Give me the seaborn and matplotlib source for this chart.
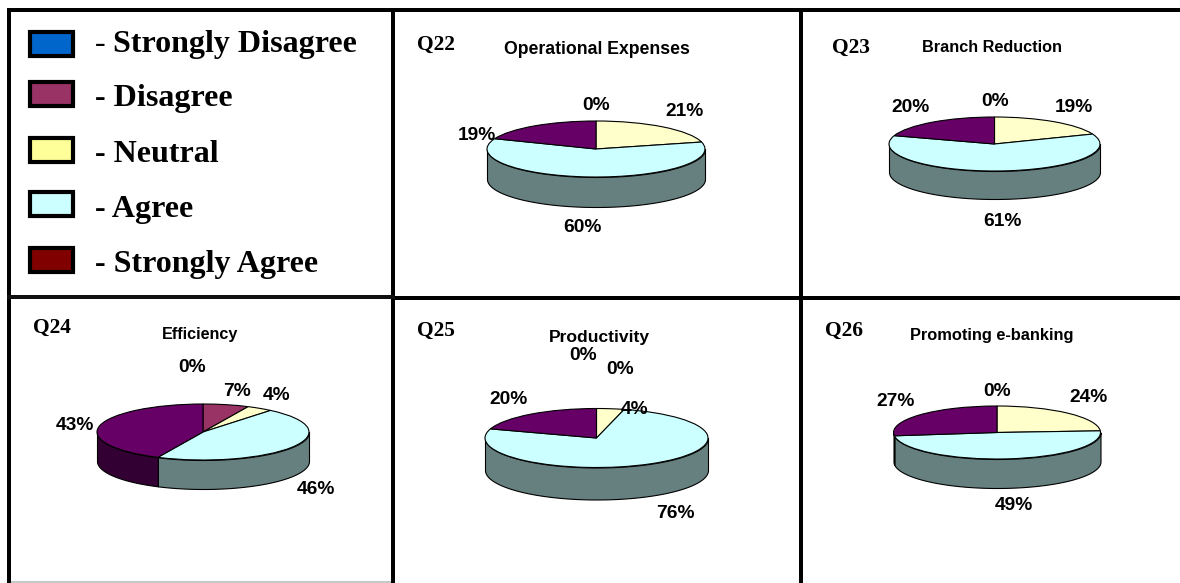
import numpy as np
import seaborn as sns
import matplotlib
matplotlib.use("Agg")
import matplotlib.pyplot as plt
from matplotlib.patches import Rectangle

# ---- data ----
categories = ["Strongly Disagree", "Disagree", "Neutral", "Agree", "Strongly Agree"]
q22 = [0, 0, 21, 60, 19]
q23 = [0, 0, 19, 61, 20]
q24 = [0, 7, 4, 46, 43]
q25 = [0, 0, 4, 76, 20]
q26 = [0, 0, 24, 49, 27]
question_ids = ["Q22", "Q23", "Q24", "Q25", "Q26"]
titles = ["Operational Expenses", "Branch Reduction", "Efficiency", "Productivity", "Promoting e-banking"]
series = [q22, q23, q24, q25, q26]
label_texts = [
    ["0%", "21%", "60%", "19%"],
    ["0%", "19%", "61%", "20%"],
    ["0%", "7%", "4%", "46%", "43%"],
    ["0%", "0%", "4%", "76%", "20%"],
    ["0%", "24%", "49%", "27%"],
]

# ---- styles and layout (pixels) ----
W, H = 1180, 583
legend_colors = sns.color_palette(["#0066CC", "#993366", "#FFFF99", "#CCFFFF", "#800000"])
top_colors = sns.color_palette(["#0066CC", "#993366", "#FFFFCC", "#CCFFFF", "#660066"])
side_colors = sns.color_palette(["#003366", "#4D1A33", "#808066", "#668080", "#330033"])

pie_geom = [  # cx, cy, rx, ry, depth
    (596, 149, 109, 28, 30),
    (994.5, 144, 105.5, 27, 28),
    (203, 432, 106, 28, 29),
    (596.5, 438, 111.5, 29.5, 32),
    (997, 432.5, 103.5, 26.5, 29),
]
label_pos = [
    [(596, 104), (685, 109), (582, 226), (477, 133)],
    [(995, 100), (1074, 105), (1002, 219), (911, 105)],
    [(192, 366), (237, 389), (277, 393), (316, 488), (75, 423)],
    [(583, 354), (620, 367), (635, 407), (675, 512), (509, 397)],
    [(997, 389), (1089, 396), (1014, 504), (896, 400)],
]
qid_pos = [(417, 50), (832, 53), (33, 333), (417, 336), (825, 336)]
title_pos = [(597, 54), (992, 52), (200, 339), (599, 342), (992, 340)]
title_sizes = [12.7, 11.7, 11.6, 12.6, 11.8]
swatch_tops = [30, 80, 136, 190, 246]
legend_base = [52, 106, 162, 217, 272]

sns.set_theme(style="white")
SERIF = "Liberation Serif"
SANS = "Liberation Sans"

fig = plt.figure(figsize=(W / 100, H / 100), dpi=100, facecolor="white")


def draw_pie(vals, geom):
    cx, cy, rx, ry, depth = geom
    pad = 3
    ax = fig.add_axes([(cx - rx - pad) / W, 1 - (cy + ry + depth + pad) / H,
                       (2 * rx + 2 * pad) / W, (2 * ry + depth + 2 * pad) / H])
    keep = [i for i, v in enumerate(vals) if v > 0]
    total = sum(vals)
    # side wall: the part of each slice on the front half of the rim
    f0 = 0.0
    d = depth / ry
    for i in keep:
        f1 = f0 + vals[i] / total
        a, b = max(f0, 0.25), min(f1, 0.75)
        if b > a:
            th = np.radians(90 - 360 * np.linspace(a, b, 100))
            x, y = np.cos(th), np.sin(th)
            ax.fill_between(x, y, y - d, facecolor=side_colors[i], edgecolor="black", lw=0.8, zorder=1)
        f0 = f1
    wedges, _ = ax.pie([vals[i] for i in keep], colors=[top_colors[i] for i in keep],
                       startangle=90, counterclock=False, radius=1,
                       wedgeprops=dict(edgecolor="black", linewidth=0.8))
    for w in wedges:
        w.set_zorder(2)
    ax.set_aspect("auto")
    ax.set_xlim(-1 - pad / rx, 1 + pad / rx)
    ax.set_ylim(-1 - d - pad / ry, 1 + pad / ry)
    ax.axis("off")
    ax.patch.set_alpha(0)


for vals, geom in zip(series, pie_geom):
    draw_pie(vals, geom)

# overlay in pixel units for the table rules, legend and text
ov = fig.add_axes([0, 0, 1, 1], zorder=10)
ov.set_xlim(0, W)
ov.set_ylim(H, 0)
ov.axis("off")
ov.patch.set_alpha(0)


def rule(x0, y0, x1, y1, c="black"):
    ov.add_patch(Rectangle((x0, y0), x1 - x0, y1 - y0, facecolor=c, edgecolor="none"))


rule(7, 8, W, 12)
rule(7, 8, 11, H)
rule(391, 8, 395, H)
rule(799, 8, 803, H)
rule(7, 295, 395, 299, "#111111")
rule(395, 296, W, 300)
rule(11, 581, 391, 583, "#c8c8c8")

for top, c, base, name, i in zip(swatch_tops, legend_colors, legend_base, categories, range(5)):
    ov.add_patch(Rectangle((30, top + 2), 43, 24, facecolor=c, edgecolor="black", lw=3.0))
    if i == 0:
        ov.text(95, base, "-", family=SERIF, fontsize=23, va="baseline", ha="left", color="black")
        ov.text(113, base, name, family=SERIF, weight="bold", fontsize=23, va="baseline", ha="left", color="black")
    else:
        ov.text(95, base, "- " + name, family=SERIF, weight="bold", fontsize=23, va="baseline", ha="left", color="black")

for qid, (x, y) in zip(question_ids, qid_pos):
    ov.text(x, y, qid, family=SERIF, weight="bold", fontsize=15.5, va="baseline", ha="left", color="black")
for t, (x, y), fs in zip(titles, title_pos, title_sizes):
    ov.text(x, y, t, family=SANS, weight="bold", fontsize=fs, va="baseline", ha="center", color="black")
for texts, poss in zip(label_texts, label_pos):
    for t, (x, y) in zip(texts, poss):
        ov.text(x, y, t, family=SANS, weight="bold", fontsize=13.8, va="center_baseline", ha="center", color="black")

fig.savefig("out.png", dpi=100)
